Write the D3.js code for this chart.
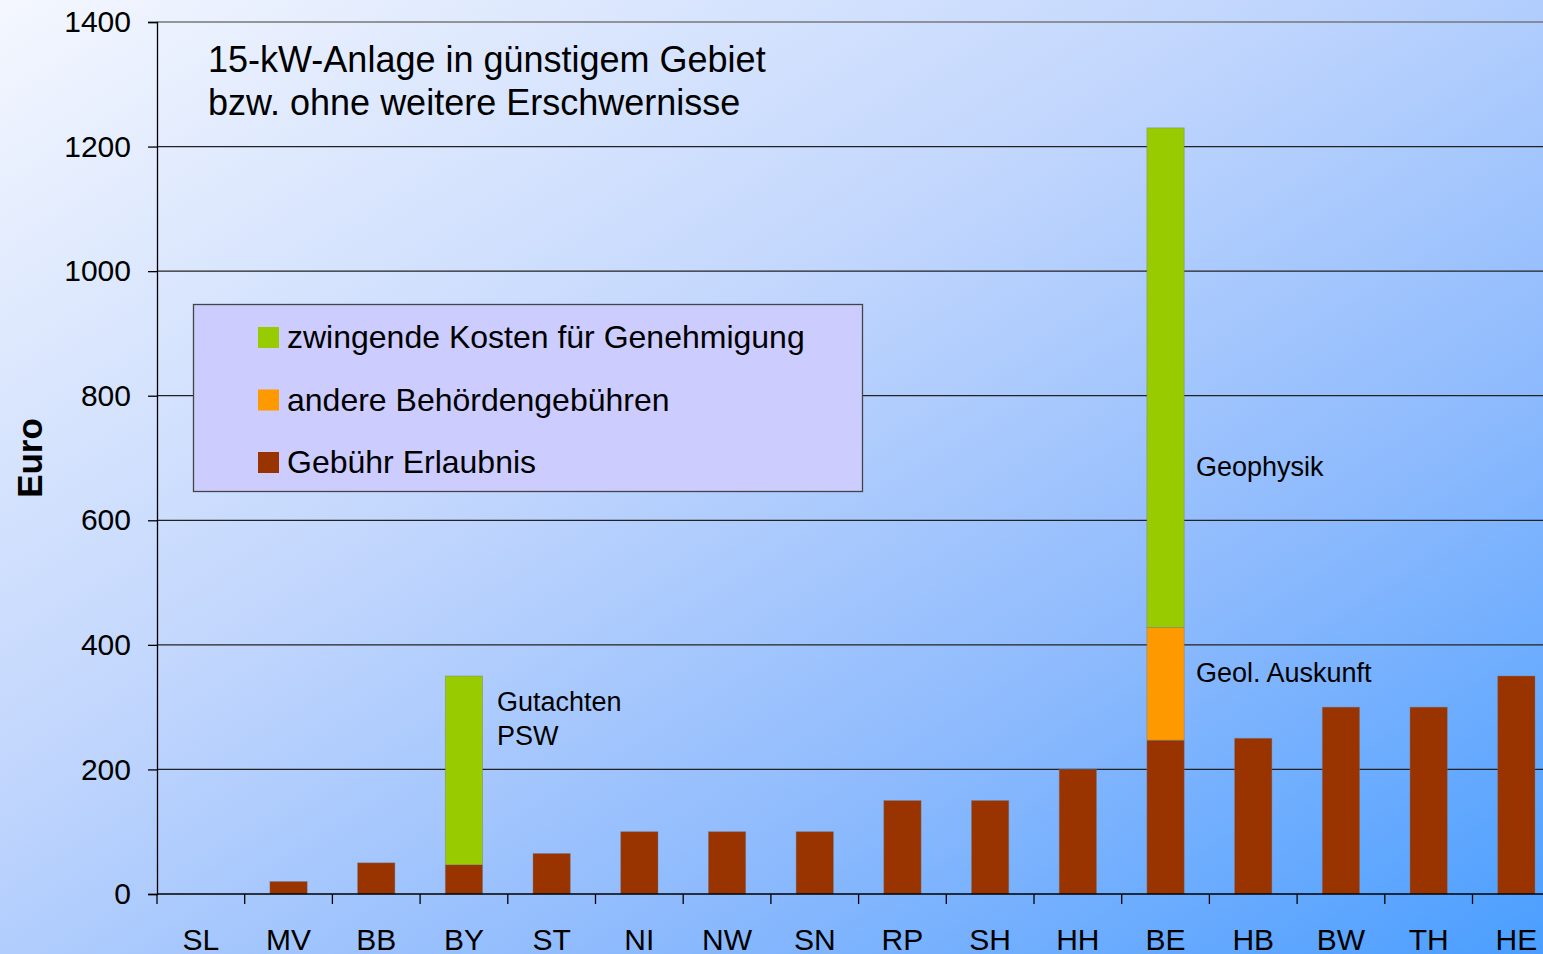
<!DOCTYPE html>
<html>
<head>
<meta charset="utf-8">
<script src="https://cdn.jsdelivr.net/npm/d3@7"></script>
<style>
  html, body { margin: 0; padding: 0; overflow: hidden; }
  svg { display: block; font-family: Arial, "Liberation Sans", sans-serif; }
</style>
</head>
<body>
<script>
// Bundesländer
var laender = ["SL","MV","BB","BY","ST","NI","NW","SN","RP","SH","HH","BE","HB","BW","TH","HE"];
// Euro per series
var gebuehrErlaubnis = [0, 20, 50, 47, 65, 100, 100, 100, 150, 150, 200, 247, 250, 300, 300, 350];
var andereGebuehren  = [0, 0, 0, 0, 0, 0, 0, 0, 0, 0, 0, 181, 0, 0, 0, 0];
var zwingendeKosten  = [0, 0, 0, 303, 0, 0, 0, 0, 0, 0, 0, 802, 0, 0, 0, 0];
var yTicks = [0, 200, 400, 600, 800, 1000, 1200, 1400];

var seriesNames = ["Gebühr Erlaubnis", "andere Behördengebühren", "zwingende Kosten für Genehmigung"];
var seriesColors = ["#993300", "#ff9900", "#99cc00"];

var width = 1543, height = 954;
var plotLeft = 157, plotBottom = 894, plotTop = 22;
var step = 87.7;

var svg = d3.select("body").append("svg")
    .attr("width", width)
    .attr("height", height);

// background gradient
var defs = svg.append("defs");
var grad = defs.append("linearGradient")
    .attr("id", "bg")
    .attr("x1", "0%").attr("y1", "0%")
    .attr("x2", "100%").attr("y2", "100%");
grad.append("stop").attr("offset", "0%").attr("stop-color", "#f4f7fe");
grad.append("stop").attr("offset", "40%").attr("stop-color", "#c3d7fd");
grad.append("stop").attr("offset", "70%").attr("stop-color", "#8dbafd");
grad.append("stop").attr("offset", "100%").attr("stop-color", "#4a9eff");
svg.append("rect")
    .attr("width", width).attr("height", height)
    .attr("fill", "url(#bg)");

var x = d3.scaleBand()
    .domain(laender)
    .range([plotLeft, plotLeft + step * laender.length])
    .paddingInner(0.575)
    .paddingOuter(0.2875);

var y = d3.scaleLinear()
    .domain([0, 1400])
    .range([plotBottom, plotTop]);

// gridlines
svg.append("g").selectAll("line")
    .data(yTicks.filter(function(d) { return d > 0; }))
    .enter().append("line")
    .attr("x1", plotLeft).attr("x2", width)
    .attr("y1", function(d) { return y(d); })
    .attr("y2", function(d) { return y(d); })
    .attr("stroke", function(d) { return d == 1400 ? "#777" : "#222"; })
    .attr("stroke-width", 1.3);

// stacked bars
var table = laender.map(function(c, i) {
    return { land: c, g: gebuehrErlaubnis[i], a: andereGebuehren[i], z: zwingendeKosten[i] };
});
var stack = d3.stack().keys(["g", "a", "z"]);
var layers = stack(table);

svg.append("g").selectAll("g")
    .data(layers)
    .enter().append("g")
    .attr("fill", function(d, i) { return seriesColors[i]; })
    .selectAll("rect")
    .data(function(d) { return d.filter(function(p) { return p[1] - p[0] > 0; }); })
    .enter().append("rect")
    .attr("x", function(d) { return x(d.data.land); })
    .attr("width", x.bandwidth())
    .attr("y", function(d) { return y(d[1]); })
    .attr("height", function(d) { return y(d[0]) - y(d[1]); })
    .attr("stroke", "rgba(120,120,120,0.5)")
    .attr("stroke-width", 0.8);

// y axis
var yAxis = d3.axisLeft(y)
    .tickValues(yTicks)
    .tickSize(9)
    .tickPadding(17)
    .tickFormat(d3.format("d"));
var gy = svg.append("g")
    .attr("transform", "translate(" + plotLeft + ",0)")
    .call(yAxis);
gy.select(".domain").attr("stroke", "#000").attr("stroke-width", 1.3);
gy.selectAll(".tick line").attr("stroke", "#000").attr("stroke-width", 1.3);
gy.selectAll("text")
    .attr("font-size", "30px")
    .attr("font-family", "Arial, 'Liberation Sans', sans-serif")
    .attr("fill", "#000");

// x axis line and boundary ticks
svg.append("line")
    .attr("x1", plotLeft).attr("x2", width)
    .attr("y1", plotBottom).attr("y2", plotBottom)
    .attr("stroke", "#000").attr("stroke-width", 1.3);
svg.append("g").selectAll("line")
    .data(d3.range(laender.length + 1))
    .enter().append("line")
    .attr("x1", function(i) { return plotLeft + i * x.step(); })
    .attr("x2", function(i) { return plotLeft + i * x.step(); })
    .attr("y1", plotBottom).attr("y2", plotBottom + 10)
    .attr("stroke", "#000").attr("stroke-width", 1.3);

svg.append("g").selectAll("text")
    .data(laender)
    .enter().append("text")
    .attr("x", function(d) { return x(d) + x.bandwidth() / 2; })
    .attr("y", 950)
    .attr("text-anchor", "middle")
    .attr("font-size", "30px")
    .text(function(d) { return d; });

// y title
svg.append("text")
    .attr("transform", "translate(42,458) rotate(-90)")
    .attr("text-anchor", "middle")
    .attr("font-size", "35px")
    .attr("font-weight", "bold")
    .text("Euro");

// chart heading
svg.append("text")
    .attr("x", 208).attr("y", 72)
    .attr("font-size", "36px")
    .text("15-kW-Anlage in günstigem Gebiet");
svg.append("text")
    .attr("x", 208).attr("y", 115)
    .attr("font-size", "36px")
    .text("bzw. ohne weitere Erschwernisse");

// legend
svg.append("rect")
    .attr("x", 193.5).attr("y", 304.5)
    .attr("width", 669).attr("height", 187)
    .attr("fill", "#ccccff")
    .attr("stroke", "#444").attr("stroke-width", 1.3);
var legendOrder = [2, 1, 0];
var lg = svg.append("g").selectAll("g")
    .data(legendOrder)
    .enter().append("g")
    .attr("transform", function(d, i) { return "translate(258," + (337 + i * 62.5) + ")"; });
lg.append("rect")
    .attr("x", 0).attr("y", -10)
    .attr("width", 21).attr("height", 21)
    .attr("fill", function(d) { return seriesColors[d]; });
lg.append("text")
    .attr("x", 29).attr("y", 11)
    .attr("font-size", "32px")
    .text(function(d) { return seriesNames[d]; });

// annotations
var notes = [
    { t: "Gutachten", x: 497, y: 711 },
    { t: "PSW", x: 497, y: 745 },
    { t: "Geophysik", x: 1196, y: 476 },
    { t: "Geol. Auskunft", x: 1196, y: 682 }
];
svg.append("g").selectAll("text")
    .data(notes)
    .enter().append("text")
    .attr("x", function(d) { return d.x; })
    .attr("y", function(d) { return d.y; })
    .attr("font-size", "27px")
    .text(function(d) { return d.t; });
</script>
</body>
</html>
